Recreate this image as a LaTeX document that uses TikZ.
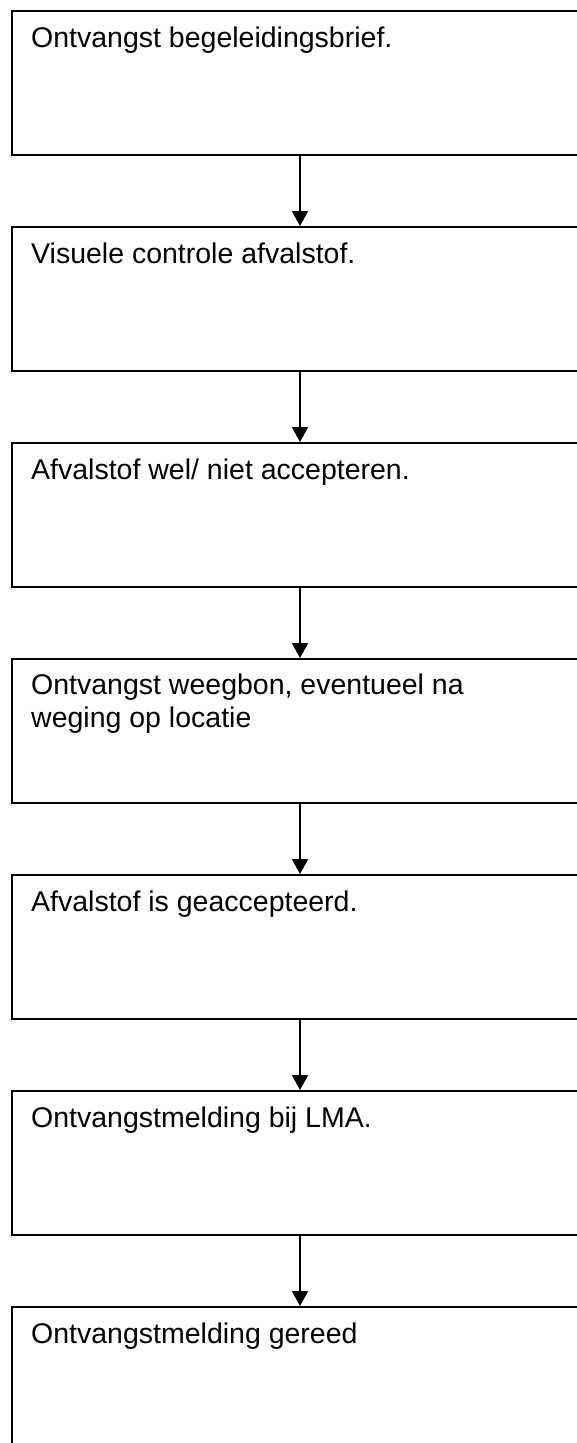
\documentclass[tikz,border=0pt]{standalone}
\usepackage{fontspec}
\setmainfont{Liberation Sans}
\usetikzlibrary{arrows.meta}
\begin{document}
\begin{tikzpicture}[x=1pt,y=-1pt,
  box/.style={draw=black,line width=2pt,rectangle,minimum width=600pt,minimum height=144pt,inner sep=0pt,anchor=north west},
  lbl/.style={anchor=base west,inner sep=0pt,font=\fontsize{28.5pt}{33pt}\selectfont,align=left},
  flow/.style={line width=2.2pt,-{Triangle[length=15pt,width=16pt]}}]
\useasboundingbox (0,0) rectangle (577,1443);
\clip (0,0) rectangle (577,1443);
\coordinate (ax) at (300,0);
\node[box] (b1) at (11,10) {};
\node[box] (b2) at (11,226) {};
\node[box] (b3) at (11,442) {};
\node[box] (b4) at (11,658) {};
\node[box] (b5) at (11,874) {};
\node[box] (b6) at (11,1090) {};
\node[box] (b7) at (11,1306) {};
\node[lbl] (t1) at (31,47) {Ontvangst begeleidingsbrief.};
\node[lbl] (t2) at (31,263) {Visuele controle afvalstof.};
\node[lbl] (t3) at (31,479) {Afvalstof wel/ niet accepteren.};
\node[lbl,anchor=north west] (t4) at (31,674) {Ontvangst weegbon, eventueel na\\weging op locatie};
\node[lbl] (t5) at (31,911) {Afvalstof is geaccepteerd.};
\node[lbl] (t6) at (31,1127) {Ontvangstmelding bij LMA.};
\node[lbl] (t7) at (31,1343) {Ontvangstmelding gereed};
\draw[flow] (b1.south -| ax) -- (b2.north -| ax);
\draw[flow] (b2.south -| ax) -- (b3.north -| ax);
\draw[flow] (b3.south -| ax) -- (b4.north -| ax);
\draw[flow] (b4.south -| ax) -- (b5.north -| ax);
\draw[flow] (b5.south -| ax) -- (b6.north -| ax);
\draw[flow] (b6.south -| ax) -- (b7.north -| ax);
\end{tikzpicture}
\end{document}
